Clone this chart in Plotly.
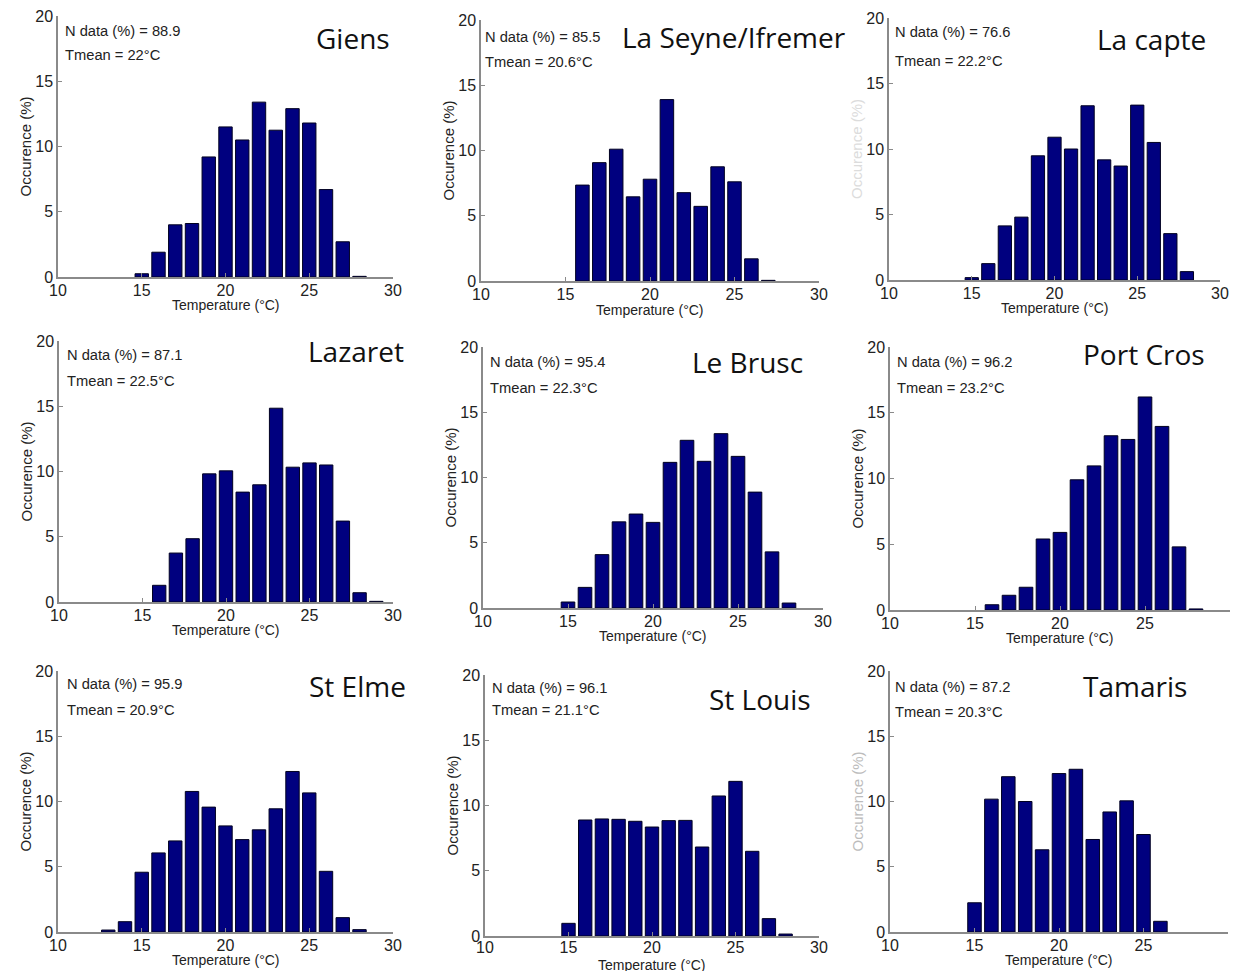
import plotly.graph_objects as go

# ---------------- data ----------------
stations = ["Giens", "La Seyne/Ifremer", "La capte",
            "Lazaret", "Le Brusc", "Port Cros",
            "St Elme", "St Louis", "Tamaris"]

n_data = ["88.9", "85.5", "76.6", "87.1", "95.4", "96.2", "95.9", "96.1", "87.2"]
t_mean = ["22", "20.6", "22.2", "22.5", "22.3", "23.2", "20.9", "21.1", "20.3"]

giens_t = [15, 16, 17, 18, 19, 20, 21, 22, 23, 24, 25, 26, 27, 28]
giens_occ = [0.25, 1.9, 4.0, 4.1, 9.2, 11.5, 10.5, 13.4, 11.25, 12.9, 11.8, 6.7, 2.7, 0.05]

laseyne_t = [16, 17, 18, 19, 20, 21, 22, 23, 24, 25, 26, 27]
laseyne_occ = [7.35, 9.07, 10.1, 6.45, 7.8, 13.9, 6.77, 5.72, 8.75, 7.6, 1.7, 0.05]

lacapte_t = [15, 16, 17, 18, 19, 20, 21, 22, 23, 24, 25, 26, 27, 28]
lacapte_occ = [0.18, 1.25, 4.13, 4.8, 9.48, 10.9, 10.0, 13.3, 9.17, 8.7, 13.35, 10.5, 3.54, 0.64]

lazaret_t = [16, 17, 18, 19, 20, 21, 22, 23, 24, 25, 26, 27, 28, 29]
lazaret_occ = [1.28, 3.75, 4.85, 9.82, 10.05, 8.42, 8.98, 14.85, 10.33, 10.66, 10.5, 6.2, 0.71, 0.05]

lebrusc_t = [15, 16, 17, 18, 19, 20, 21, 22, 23, 24, 25, 26, 27, 28]
lebrusc_occ = [0.46, 1.58, 4.09, 6.6, 7.2, 6.56, 11.16, 12.85, 11.24, 13.36, 11.62, 8.88, 4.3, 0.38]

portcros_t = [16, 17, 18, 19, 20, 21, 22, 23, 24, 25, 26, 27, 28]
portcros_occ = [0.4, 1.12, 1.73, 5.4, 5.9, 9.9, 10.96, 13.25, 12.97, 16.2, 13.96, 4.8, 0.08]

stelme_t = [13, 14, 15, 16, 17, 18, 19, 20, 21, 22, 23, 24, 25, 26, 27, 28]
stelme_occ = [0.15, 0.79, 4.58, 6.06, 6.98, 10.77, 9.57, 8.13, 7.08, 7.83, 9.44, 12.3, 10.66, 4.65, 1.1, 0.18]

stlouis_t = [15, 16, 17, 18, 19, 20, 21, 22, 23, 24, 25, 26, 27, 28]
stlouis_occ = [0.97, 8.89, 8.97, 8.94, 8.79, 8.35, 8.84, 8.86, 6.82, 10.73, 11.85, 6.49, 1.33, 0.15]

tamaris_t = [15, 16, 17, 18, 19, 20, 21, 22, 23, 24, 25, 26]
tamaris_occ = [2.24, 10.18, 11.9, 10.0, 6.3, 12.14, 12.47, 7.09, 9.2, 10.05, 7.47, 0.82]

x_ticks = [10, 15, 20, 25, 30]
y_ticks = [0, 5, 10, 15, 20]
x_title = "Temperature (°C)"
y_title = "Occurence (%)"

series = [(giens_t, giens_occ), (laseyne_t, laseyne_occ), (lacapte_t, lacapte_occ),
          (lazaret_t, lazaret_occ), (lebrusc_t, lebrusc_occ), (portcros_t, portcros_occ),
          (stelme_t, stelme_occ), (stlouis_t, stlouis_occ), (tamaris_t, tamaris_occ)]

# ---------------- layout (pixel geometry of each panel) ----------------
W, H = 1233, 971
# axes boxes: x0, x1, y_top, y_bottom in pixels
boxes = [(58, 393, 16, 277), (481, 819, 20, 281), (889, 1220, 18, 280),
         (59, 393, 341, 602), (483, 823, 347, 608), (890, 1230, 347, 610),
         (58, 393, 671, 932), (485, 819, 675, 936), (890, 1228, 671, 932)]
# x tick-label standoff per panel (px)
xlab_standoff = [-2, -2, -2, -2, -2, -2, -2, -4, -2]
# x-axis title centre y (pixels)
xtitle_y = [305, 310, 308, 630, 636, 638, 960, 965, 960]
# station title: right edge x, centre y
title_pos = [(392, 38), (848, 37), (1208, 39),
             (406, 351), (805, 362), (1207, 354),
             (408, 686), (813, 699), (1189, 686)]
# info text: left x, centre y of first line, centre y of second line
info_pos = [(63, 31, 55), (483, 37, 62), (893, 32, 61),
            (65, 355, 381), (488, 362, 388), (895, 362, 388),
            (65, 684, 710), (490, 688, 710), (893, 687, 712)]
# y-title style: normal / ghost (partly erased in the source image)
ytitle_color = ["#222", "#222", "#dcdcdc", "#222", "#222", "#222", "#222", "#222", "#bcbcbc"]

BAR = "#00007f"
AX = "#8a8a8a"
TXT = "#222222"
FONT = "Liberation Sans, Arial, sans-serif"
TFONT = "Open Sans, Noto Sans, sans-serif"

fig = go.Figure()
annotations = []
layout_axes = {}

def px_x(x):
    return x / W

def px_y(y):
    return 1 - y / H

for i, ((t, occ), (x0, x1, yt, yb)) in enumerate(zip(series, boxes)):
    n = "" if i == 0 else str(i + 1)
    fig.add_trace(go.Bar(
        x=t, y=occ, width=0.8,
        marker=dict(color=BAR, line=dict(color="#000020", width=1)),
        xaxis="x" + n, yaxis="y" + n, showlegend=False,
        hovertemplate="%{x} °C: %{y:.1f}%<extra>" + stations[i] + "</extra>",
    ))
    layout_axes["xaxis" + n] = dict(
        domain=[px_x(x0), px_x(x1)], anchor="y" + n, range=[10, 30],
        tickvals=x_ticks, ticks="inside", ticklen=4, tickcolor=AX,
        showline=True, linecolor=AX, linewidth=1.5, showgrid=False, zeroline=False,
        automargin=False, ticklabelstandoff=xlab_standoff[i],
        tickfont=dict(family=FONT, size=16, color=TXT), fixedrange=True,
    )
    layout_axes["yaxis" + n] = dict(
        domain=[px_y(yb), px_y(yt)], anchor="x" + n, range=[0, 20],
        tickvals=y_ticks, ticks="inside", ticklen=4, tickcolor=AX,
        showline=True, linecolor=AX, linewidth=1.5, showgrid=False, zeroline=False,
        automargin=False,
        tickfont=dict(family=FONT, size=16, color=TXT), fixedrange=True,
    )
    # x-axis title
    annotations.append(dict(
        x=px_x((x0 + x1) / 2), y=px_y(xtitle_y[i]), xref="paper", yref="paper",
        text=x_title, showarrow=False, xanchor="center", yanchor="middle",
        font=dict(family=FONT, size=14, color=TXT)))
    # y-axis title
    annotations.append(dict(
        x=px_x(x0 - 33), y=px_y((yt + yb) / 2), xref="paper", yref="paper",
        text=y_title, showarrow=False, xanchor="center", yanchor="middle", textangle=-90,
        font=dict(family=FONT, size=15, color=ytitle_color[i])))
    # station title
    tx, ty = title_pos[i]
    annotations.append(dict(
        x=px_x(tx), y=px_y(ty), xref="paper", yref="paper",
        text=stations[i], showarrow=False, xanchor="right", yanchor="middle",
        font=dict(family=TFONT, size=28, color="#111")))
    # info text
    ix, iy1, iy2 = info_pos[i]
    annotations.append(dict(
        x=px_x(ix), y=px_y(iy1), xref="paper", yref="paper",
        text="N data (%) = " + n_data[i], showarrow=False, xanchor="left", yanchor="middle",
        font=dict(family=FONT, size=14.7, color=TXT)))
    annotations.append(dict(
        x=px_x(ix), y=px_y(iy2), xref="paper", yref="paper",
        text="Tmean = " + t_mean[i] + "°C", showarrow=False, xanchor="left", yanchor="middle",
        font=dict(family=FONT, size=14.7, color=TXT)))

fig.update_layout(
    width=W, height=H,
    margin=dict(l=0, r=0, t=0, b=0, autoexpand=False),
    paper_bgcolor="white", plot_bgcolor="white",
    showlegend=False, bargap=0.2,
    annotations=annotations,
    **layout_axes,
)

fig.write_html("out.html")
